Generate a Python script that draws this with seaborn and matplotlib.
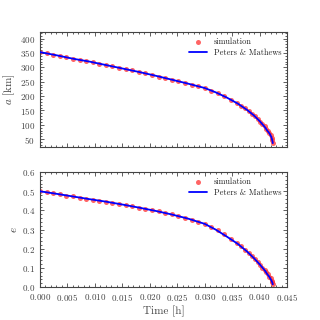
import matplotlib
matplotlib.use("Agg")
import matplotlib.pyplot as plt
from matplotlib.ticker import AutoMinorLocator, MultipleLocator
import seaborn as sns

# Peters & Mathews curve
t_pm = [0.0, 0.003, 0.006, 0.009, 0.012, 0.015, 0.018, 0.021, 0.024, 0.027, 0.030,
        0.032, 0.034, 0.036, 0.0377, 0.039, 0.040, 0.041, 0.0413, 0.0418, 0.0421,
        0.0423, 0.0424]
a_pm = [353, 342, 330, 320, 308, 296, 284, 271, 257, 243, 228,
        213, 195, 174, 152, 132, 113, 91, 82, 70, 59, 47, 36]
e_pm = [0.500, 0.487, 0.473, 0.459, 0.446, 0.431, 0.415, 0.398, 0.379, 0.357, 0.330,
        0.300, 0.264, 0.226, 0.186, 0.150, 0.119, 0.085, 0.071, 0.052, 0.037, 0.025, 0.014]

# simulation samples
t_sim = [0.0000, 0.0012, 0.0024, 0.0036, 0.0048, 0.0060, 0.0072, 0.0084, 0.0096, 0.0108,
         0.0120, 0.0132, 0.0144, 0.0156, 0.0168, 0.0180, 0.0192, 0.0204, 0.0216, 0.0228,
         0.0240, 0.0252, 0.0264, 0.0276, 0.0288, 0.0300, 0.0312, 0.0324, 0.0336, 0.0348,
         0.0358, 0.0366, 0.0373, 0.0380, 0.0386, 0.0392, 0.0397, 0.0401, 0.0405, 0.0409,
         0.0412, 0.0415, 0.0418, 0.0420, 0.0422, 0.0423, 0.0424]
a_sim = [353, 348.5, 344, 339, 335, 330, 326, 321, 317, 312,
         308, 303, 298, 294, 289, 284, 279, 273, 268, 262,
         257, 251, 246, 240, 234, 228, 219, 210, 199, 187,
         176, 166, 157, 148, 139, 129, 120, 111, 102, 94,
         86, 78, 70, 63, 54, 46, 36]
e_sim = [0.500, 0.495, 0.489, 0.484, 0.478, 0.473, 0.467, 0.462, 0.456, 0.451,
         0.446, 0.440, 0.434, 0.428, 0.422, 0.415, 0.409, 0.402, 0.395, 0.387,
         0.379, 0.371, 0.362, 0.352, 0.342, 0.330, 0.315, 0.298, 0.277, 0.253,
         0.231, 0.212, 0.195, 0.177, 0.160, 0.144, 0.130, 0.116, 0.102, 0.089,
         0.078, 0.067, 0.054, 0.045, 0.033, 0.025, 0.014]

sns.set_style("ticks")
plt.rcParams["font.family"] = ["cmr10", "DejaVu Serif"]
plt.rcParams["mathtext.fontset"] = "cm"
plt.rcParams["axes.formatter.use_mathtext"] = True
plt.rcParams["axes.unicode_minus"] = False

fig = plt.figure(figsize=(3.2, 3.2), dpi=100)
ax1 = fig.add_axes([0.125, 0.541, 0.772, 0.359])
ax2 = fig.add_axes([0.125, 0.103, 0.772, 0.359])

grey = "#444444"
for ax, y_sim, y_pm in [(ax1, a_sim, a_pm), (ax2, e_sim, e_pm)]:
    sns.scatterplot(x=t_sim, y=y_sim, ax=ax, color="#ff3030", alpha=0.75, s=13,
                    linewidth=0, label="simulation", zorder=2)
    sns.lineplot(x=t_pm, y=y_pm, ax=ax, color="blue", linewidth=1.3,
                 label="Peters & Mathews", zorder=3, sort=False, estimator=None)
    ax.set_xlim(0, 0.045)
    ax.xaxis.set_major_locator(MultipleLocator(0.005))
    ax.xaxis.set_minor_locator(AutoMinorLocator(5))
    ax.yaxis.set_minor_locator(AutoMinorLocator(5))
    ax.tick_params(which="both", direction="in", top=True, right=True,
                   colors=grey, labelsize=6.5, width=0.6)
    ax.tick_params(which="major", length=3)
    ax.tick_params(which="minor", length=1.5)
    for sp in ax.spines.values():
        sp.set_color(grey)
        sp.set_linewidth(0.8)
    leg = ax.legend(loc="upper right", frameon=False, fontsize=6,
                    handlelength=2.2, borderaxespad=0.3, labelspacing=0.3)

ax1.set_ylim(23, 423)
ax1.yaxis.set_major_locator(MultipleLocator(50))
ax1.set_xticklabels([])
ax1.set_ylabel(r"$a$ [km]", fontsize=8, color=grey, labelpad=2)
ax1.set_xlabel("")

ax2.set_ylim(0, 0.6)
ax2.yaxis.set_major_locator(MultipleLocator(0.1))
ax2.set_ylabel(r"$e$", fontsize=8, color=grey, labelpad=2)
ax2.set_xlabel("Time [h]", fontsize=8, color=grey, labelpad=2)

fig.savefig("out.png", dpi=100)
